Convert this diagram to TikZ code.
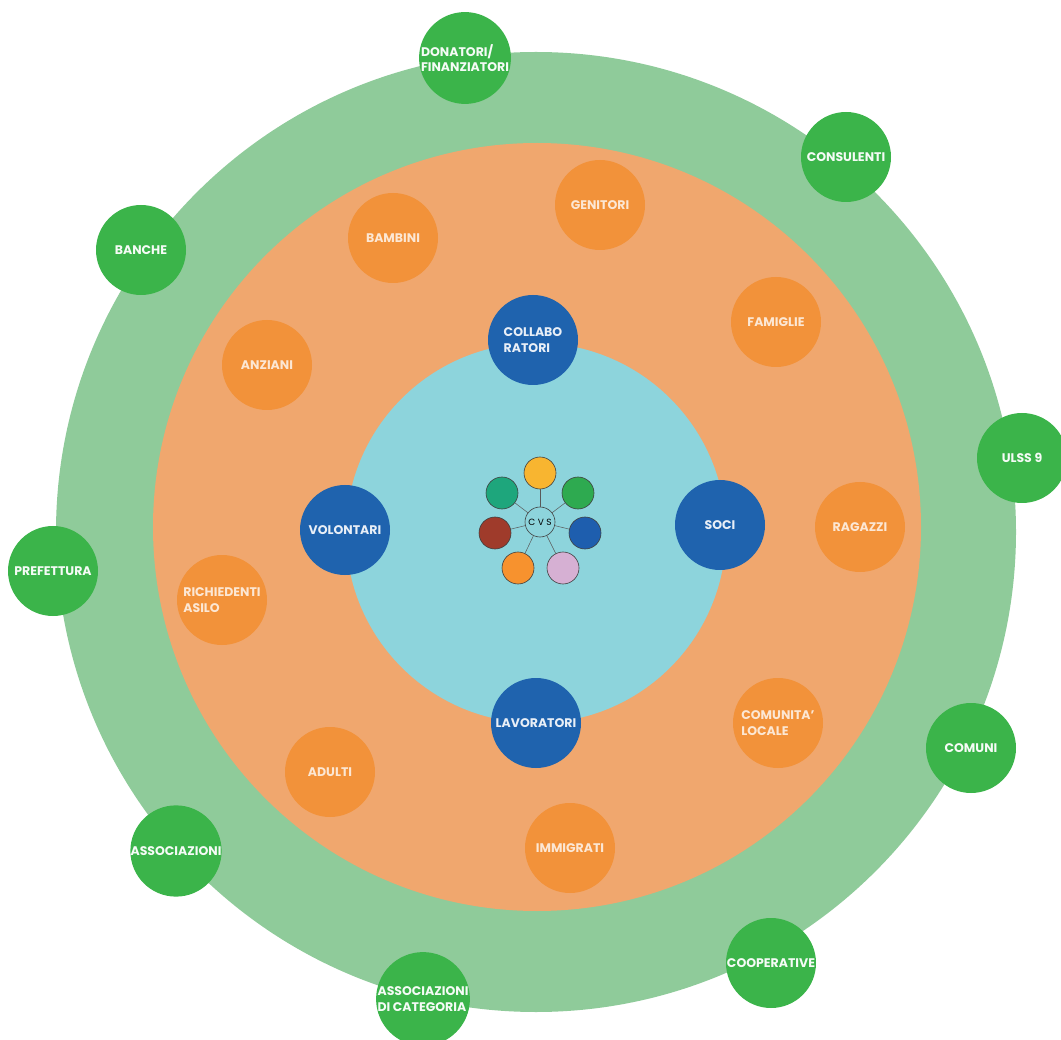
\documentclass[tikz,border=0pt]{standalone}
\usepackage{fontspec}
\setmainfont{Poppins}
\definecolor{ringgreen}{HTML}{8FCB9A}
\definecolor{ringorange}{HTML}{F0A76E}
\definecolor{ringcyan}{HTML}{8DD4DC}
\definecolor{nodegreen}{HTML}{3BB44A}
\definecolor{nodeorange}{HTML}{F2923A}
\definecolor{nodeblue}{HTML}{1F63AE}
\definecolor{satyellowc}{HTML}{F8B530}
\definecolor{satgreenc}{HTML}{2EAA50}
\definecolor{sattealc}{HTML}{1EA67C}
\definecolor{satredc}{HTML}{9F3B2B}
\definecolor{satbluec}{HTML}{1E5EAE}
\definecolor{satorangec}{HTML}{F7922E}
\definecolor{satpinkc}{HTML}{D6B0D3}
\tikzset{
  hubnode/.style={circle, minimum size=90pt, inner sep=0pt, align=left,
    font=\bfseries\fontsize{12.5}{15.5}\selectfont},
  greennode/.style={hubnode, fill=nodegreen, text=white!95!nodegreen},
  orangenode/.style={hubnode, fill=nodeorange, text=white!78!nodeorange},
  bluenode/.style={hubnode, fill=nodeblue, text=white!90!nodeblue},
  satnode/.style={circle, draw=black!75, line width=0.6pt, minimum size=32pt, inner sep=0pt},
  spoke/.style={draw=black!65, line width=0.5pt}
}
\begin{document}
\begin{tikzpicture}[x=1pt,y=-1pt]
        \useasboundingbox (0,0) rectangle (1061,1040);

        \fill[ringgreen] (536,532) circle (480);
        \fill[ringorange] (537,527) circle (384);
        \fill[ringcyan] (536,533) circle (190);

        % outer ring
        \node[greennode] (donatori) at (465,58) {DONATORI/\\FINANZIATORI};
        \node[greennode] (consulenti) at (846,157) {CONSULENTI};
        \node[greennode] (banche) at (141,250) {BANCHE};
        \node[greennode] (ulss) at (1022,458) {ULSS 9};
        \node[greennode] (prefettura) at (53,571) {PREFETTURA};
        \node[greennode] (comuni) at (971,748) {COMUNI};
        \node[greennode] (associazioni) at (176,851) {ASSOCIAZIONI};
        \node[greennode] (cooperative) at (771,963) {COOPERATIVE};
        \node[greennode] (categoria) at (423,999) {ASSOCIAZIONI\\DI CATEGORIA};

        % middle ring
        \node[orangenode] (genitori) at (600,205) {GENITORI};
        \node[orangenode] (bambini) at (393,238) {BAMBINI};
        \node[orangenode] (famiglie) at (776,322) {FAMIGLIE};
        \node[orangenode] (anziani) at (267,365) {ANZIANI};
        \node[orangenode] (ragazzi) at (860,527) {RAGAZZI};
        \node[orangenode] (richiedenti) at (222,600) {RICHIEDENTI\\ASILO};
        \node[orangenode] (comunita) at (778,723) {COMUNITA'\\LOCALE};
        \node[orangenode] (adulti) at (330,772) {ADULTI};
        \node[orangenode] (immigrati) at (570,848) {IMMIGRATI};

        % inner ring
        \node[bluenode] (collaboratori) at (533,340) {COLLABO\\RATORI};
        \node[bluenode] (volontari) at (345,530) {VOLONTARI};
        \node[bluenode] (soci) at (720,525) {SOCI};
        \node[bluenode] (lavoratori) at (536,723) {LAVORATORI};

        % cvs
        \node[satnode, minimum size=30pt, fill=ringcyan, font=\fontsize{9}{9}\selectfont] (cvs) at (540,522) {C V S};
        \node[satnode, fill=satyellowc] (satyellow) at (540,473) {};
        \node[satnode, fill=satgreenc] (satgreen) at (578,493) {};
        \node[satnode, fill=satbluec] (satblue) at (585,533) {};
        \node[satnode, fill=satpinkc] (satpink) at (563,568) {};
        \node[satnode, fill=satorangec] (satorange) at (518,568) {};
        \node[satnode, fill=satredc] (satred) at (495,533) {};
        \node[satnode, fill=sattealc] (satteal) at (502,493) {};

        \draw[spoke] (cvs) -- (satyellow);
        \draw[spoke] (cvs) -- (satgreen);
        \draw[spoke] (cvs) -- (satblue);
        \draw[spoke] (cvs) -- (satpink);
        \draw[spoke] (cvs) -- (satorange);
        \draw[spoke] (cvs) -- (satred);
        \draw[spoke] (cvs) -- (satteal);
    \end{tikzpicture}
\end{document}
